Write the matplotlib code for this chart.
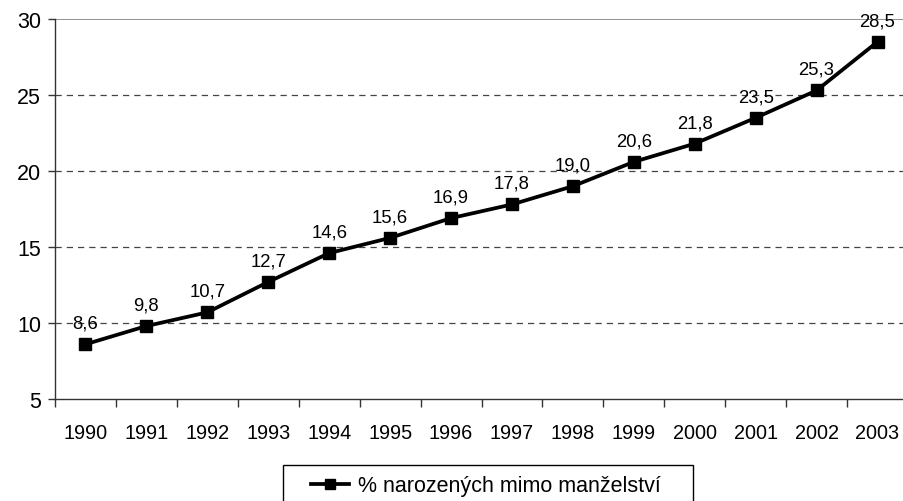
import numpy as np
import matplotlib.pyplot as plt
from matplotlib.patches import Rectangle

plt.rcParams['font.family'] = ['Liberation Sans', 'DejaVu Sans']

years = ['1990', '1991', '1992', '1993', '1994', '1995', '1996',
         '1997', '1998', '1999', '2000', '2001', '2002', '2003']
values = [8.6, 9.8, 10.7, 12.7, 14.6, 15.6, 16.9,
          17.8, 19.0, 20.6, 21.8, 23.5, 25.3, 28.5]
series_name = '% narozených mimo manželství'

W, H = 904, 502
fig = plt.figure(figsize=(W / 100, H / 100), dpi=100)
ax = fig.add_axes([55/W, 102/H, 853/W, 380/H])

xx = np.arange(len(years))

# grid lines (Excel style)
for g in [10, 15, 20, 25]:
    ax.axhline(g, color='#444444', lw=0.9, ls=(0, (5, 4)), zorder=1)
ax.axhline(30, color='#888888', lw=1.3, zorder=1)

ax.plot(xx, values, color='black', lw=2.7, marker='s', markersize=8,
        label=series_name, zorder=3, clip_on=False)

for x, v in zip(xx, values):
    ax.annotate(f'{v:.1f}'.replace('.', ','), (x, v), xytext=(0, 9),
                textcoords='offset points', ha='center', va='bottom',
                fontsize=13.3, zorder=4)

ax.set_xlim(-0.5, len(years) - 0.5)
ax.set_ylim(5, 30)
ax.set_yticks([5, 10, 15, 20, 25, 30])
ax.tick_params(axis='y', labelsize=15.5, length=5, width=1, direction='out',
               pad=5, color='#333333')

# category axis: ticks between categories, labels centred
ax.set_xticks(np.arange(-0.5, len(years), 1.0))
ax.set_xticklabels([])
ax.set_xticks(xx, minor=True)
ax.set_xticklabels(years, minor=True)
ax.tick_params(axis='x', which='major', length=6, width=1, direction='out',
               color='#333333')
ax.tick_params(axis='x', which='minor', length=0, labelsize=14.3, pad=17)

ax.spines['top'].set_visible(False)
ax.spines['right'].set_visible(False)
for s in ['left', 'bottom']:
    ax.spines[s].set_linewidth(1)
    ax.spines[s].set_color('#333333')

# legend box (clipped by the bottom edge like in the original)
fig.patches.append(Rectangle((283/W, -10/H), (693 - 283)/W, (H - 466 + 10)/H,
                             transform=fig.transFigure, fill=False,
                             edgecolor='black', lw=1))
fig.legend(loc='center left', bbox_to_anchor=(311/W, 1 - 487/H),
           fontsize=15.5, frameon=False, borderpad=0, borderaxespad=0,
           handlelength=1.75, handletextpad=0.45, markerscale=0.85)

plt.savefig('out.png', dpi=100)
